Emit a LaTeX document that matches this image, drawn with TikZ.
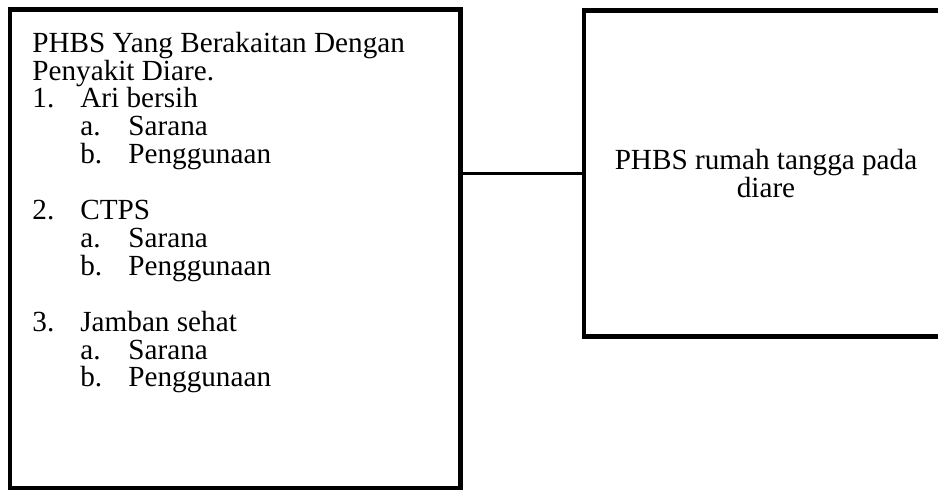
\documentclass[tikz,border=0pt]{standalone}
\usepackage{fontspec}
\setmainfont{Liberation Serif}
\usepackage{tikz}
\usetikzlibrary{positioning}
\tikzstyle{kotak} = [draw, line width=2.2pt, outer sep=0pt, inner sep=0pt, align=center, font=\fontsize{14.6}{13.95}\selectfont]
\tikzstyle{teks} = [anchor=north west, inner sep=0pt, align=left, font=\fontsize{14.6}{13.95}\selectfont]
\tikzstyle{line} = [draw, line width=1.4pt]
\newcommand{\listnum}[2]{\makebox[24pt][l]{#1}#2}
\newcommand{\listsub}[2]{\hspace*{24pt}\makebox[24pt][l]{#1}#2}

\begin{document}
\begin{tikzpicture}[x=0.5pt,y=0.5pt]
\useasboundingbox (0,0) rectangle (938,491);
\path (235.25,242.25) node (k1) [kotak, minimum width=225.25pt, minimum height=239.25pt] {};
\path (k1.north west)+(22,-22) node (t1) [teks] {PHBS Yang Berakaitan Dengan\\
Penyakit Diare.\\
\listnum{1.}{Ari bersih}\\
\listsub{a.}{Sarana}\\
\listsub{b.}{Penggunaan}\\[13.95pt]
\listnum{2.}{CTPS}\\
\listsub{a.}{Sarana}\\
\listsub{b.}{Penggunaan}\\[13.95pt]
\listnum{3.}{Jamban sehat}\\
\listsub{a.}{Sarana}\\
\listsub{b.}{Penggunaan}};
\path (766,317.5) node (k2) [kotak, minimum width=182pt, minimum height=163pt] {PHBS rumah tangga pada\\diare};
\path [line] (k2.west) -- (k2.west -| k1.east);
\end{tikzpicture}
\end{document}
